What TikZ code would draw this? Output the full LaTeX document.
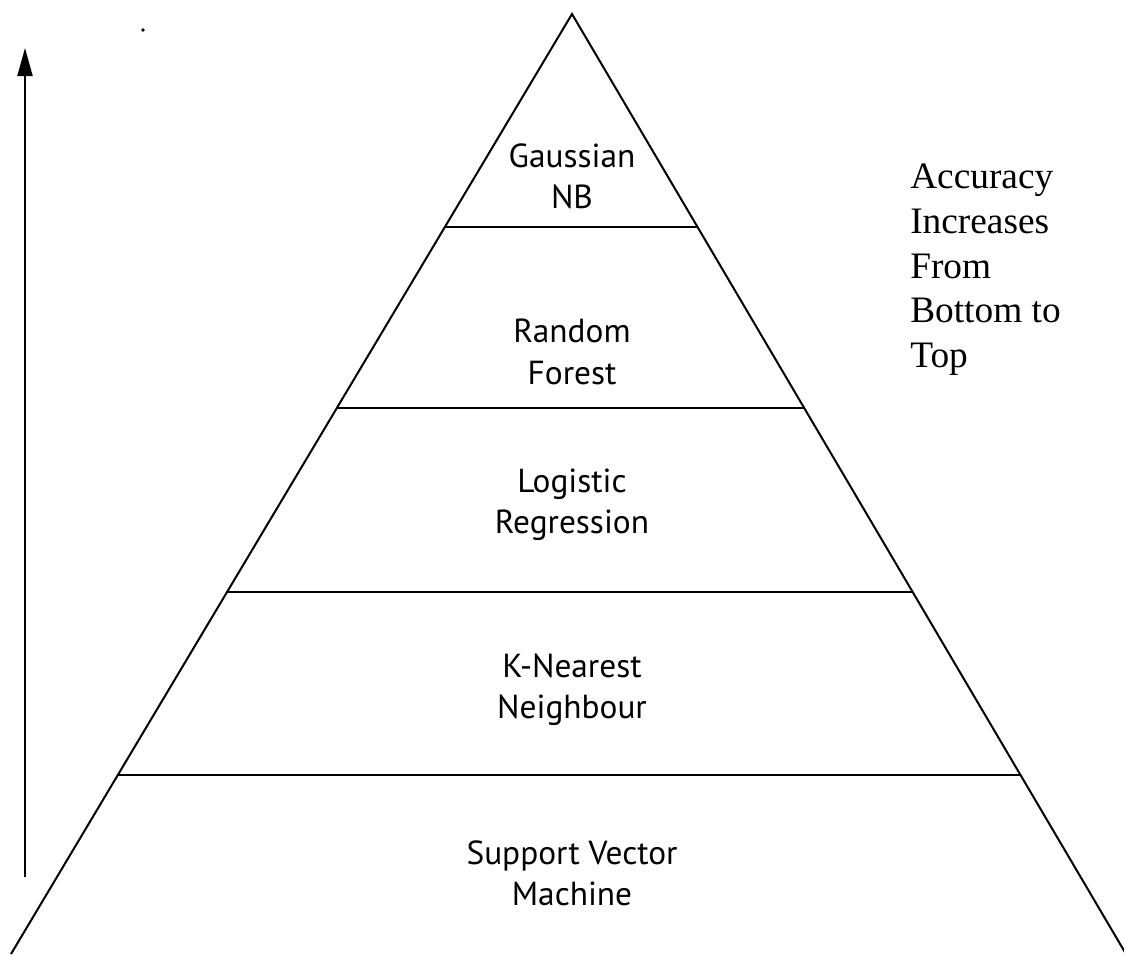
\documentclass[tikz,border=0pt]{standalone}
\usepackage{fontspec}
\setmainfont{PT Sans}
\newfontfamily\sidefont{Liberation Serif}
\usetikzlibrary{arrows.meta,calc}
\begin{document}
\begin{tikzpicture}[x=0.75pt,y=-0.75pt,
  edge/.style={line width=1.5pt,black},
  layerlabel/.style={align=center,font=\fontsize{25}{31}\selectfont,inner sep=0pt},
  sidelabel/.style={align=left,font=\sidefont\fontsize{28}{33.5}\selectfont,inner sep=0pt,anchor=north west}]
\useasboundingbox (0,0) rectangle (1124,954);
\clip (0,0) rectangle (1124,954);
\coordinate (apex) at (572,14);
\coordinate (bl) at (11,954);
\coordinate (br) at (1126,954);
\draw[edge,line join=miter] (bl) -- (apex) -- (br);
\foreach \t/\n in {0.2266/a,0.4191/b,0.6149/c,0.8096/d}{
  \coordinate (L\n) at ($(apex)!\t!(bl)$);
  \coordinate (R\n) at ($(apex)!\t!(br)$);
  \draw[edge] (L\n) -- (R\n);
}
\node[layerlabel] (gnb) at (572,176) {Gaussian\\NB};
\node[layerlabel] (rf) at (572,352) {Random\\Forest};
\node[layerlabel] (lr) at (572,505) {Logistic\\Regression};
\node[layerlabel] (knn) at (572,690) {K-Nearest\\Neighbour};
\node[layerlabel] (svm) at (572,873) {Support Vector\\Machine};
\node[sidelabel] (acc) at (910,164) {Accuracy\\Increases\\From\\Bottom to\\Top};
\coordinate (arrbot) at (25,877);
\coordinate (arrtop) at (25,48);
\draw[edge,-{Triangle[length=28*0.75pt,width=15*0.75pt]}] (arrbot) -- (arrtop);
\fill (143,30) circle (1.4pt);
\end{tikzpicture}
\end{document}
